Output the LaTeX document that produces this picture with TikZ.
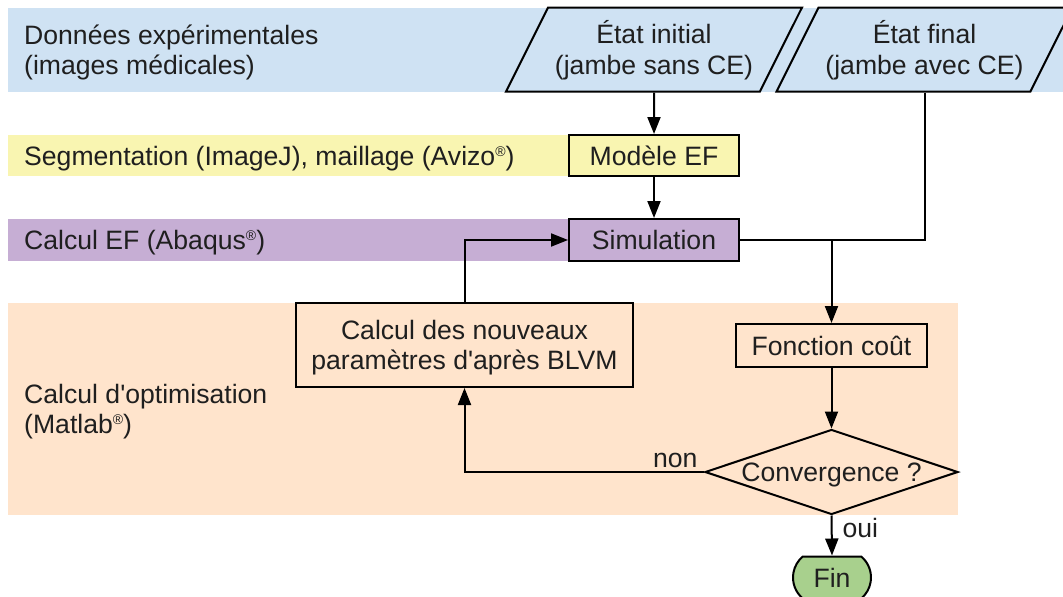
\documentclass[tikz,border=0pt]{standalone}
\usepackage{fontspec}
\setmainfont{Liberation Sans}
\usepackage{tikz}
\usetikzlibrary{positioning, shapes.geometric, shapes.misc, arrows.meta}
\usepackage{xcolor}

\definecolor{bandblue}{HTML}{CFE2F3}
\definecolor{bandyellow}{HTML}{F9F5B1}
\definecolor{bandpurple}{HTML}{C6AED4}
\definecolor{bandpeach}{HTML}{FFE4CC}
\definecolor{fingreen}{HTML}{A8D08D}

\newcommand{\regmark}{\raisebox{9pt}{\fontsize{14}{14}\selectfont ®}}

\begin{document}
\begin{tikzpicture}[x=1pt, y=-1pt,
    every node/.style={font=\fontsize{26.6}{30.5}\selectfont, text=black!88},
    twolines/.style={text height=55pt, text depth=6pt},
    oneline/.style={text height=19pt, text depth=0pt},
    lane/.style={anchor=west, align=left, inner sep=0pt},
    box/.style={draw, line width=2pt, rectangle, align=center, inner sep=0pt},
    data/.style={draw, line width=2pt, trapezium, trapezium left angle=55.4,
        trapezium right angle=124.6, trapezium stretches body, fill=bandblue,
        align=center, inner sep=0pt, minimum width=296pt, minimum height=84pt, twolines},
    decision/.style={draw, line width=2pt, diamond, aspect=3, inner sep=0pt,
        text depth=0pt, minimum width=253pt, minimum height=85pt},
    terminal/.style={draw, line width=2pt, rounded rectangle,
        rounded rectangle arc length=100, inner sep=0pt},
    link/.style={line width=2pt},
    flow/.style={line width=2pt, -{Triangle[length=17pt, width=13pt]}}]
    \clip (0,0) rectangle (1063,597);

    % Define the bands
    \fill[bandblue] (8,8) rectangle (1063,92);
    \fill[bandyellow] (8,135) rectangle (569,176);
    \fill[bandpurple] (8,219) rectangle (569,261);
    \fill[bandpeach] (8,303) rectangle (958,515);

    % Band labels
    \node[lane, twolines] (donnees) at (24,50) {Données expérimentales\\(images médicales)};
    \node[lane, oneline] (segm) at (24,156) {Segmentation (ImageJ), maillage (Avizo\regmark)};
    \node[lane, oneline] (calcef) at (24,240) {Calcul EF (Abaqus\regmark)};
    \node[lane, twolines] (optim) at (24,409) {Calcul d\textquotesingle optimisation\\(Matlab\regmark)};

    % Input data
    \node[data] (init) at (654,49.5) {État initial\\(jambe sans CE)};
    \node[data] (final) at (924.5,49.5) {État final\\(jambe avec CE)};

    % Process steps
    \node[box, fill=bandyellow, minimum width=170pt, minimum height=41pt] (modele) at (654,155.5) {Modèle EF};
    \node[box, fill=bandpurple, minimum width=170pt, minimum height=42pt] (simu) at (654,240) {Simulation};
    \node[box, minimum width=191pt, minimum height=43pt] (cout) at (831.5,345.5) {Fonction coût};
    \node[box, twolines, minimum width=337pt, minimum height=84pt] (calcul) at (464.5,345) {Calcul des nouveaux\\paramètres d\textquotesingle après BLVM};
    \node[decision] (conv) at (831.5,472) {Convergence ?};
    \node[terminal, fill=fingreen, minimum width=78pt, minimum height=42pt] (fin) at (832,577.5) {Fin};
    \coordinate (jonction) at (cout.north |- simu.east);

    % Draw the Edges
    \draw[flow] (init.south) -- (modele);
    \draw[flow] (modele) -- (simu);
    \draw[link] (final.south) |- (simu.east);
    \draw[flow] (jonction) -- (cout);
    \draw[flow] (cout) -- (conv);

    % Loop back
    \draw[flow] (conv.west) -| node[pos=0.06, above, inner sep=3pt] {non} (calcul.south);
    \draw[flow] (calcul.north) |- (simu.west);

    % Exit
    \draw[flow] (conv.south) -- node[pos=0.3, right, inner sep=10pt] {oui} (fin.north);
\end{tikzpicture}
\end{document}
